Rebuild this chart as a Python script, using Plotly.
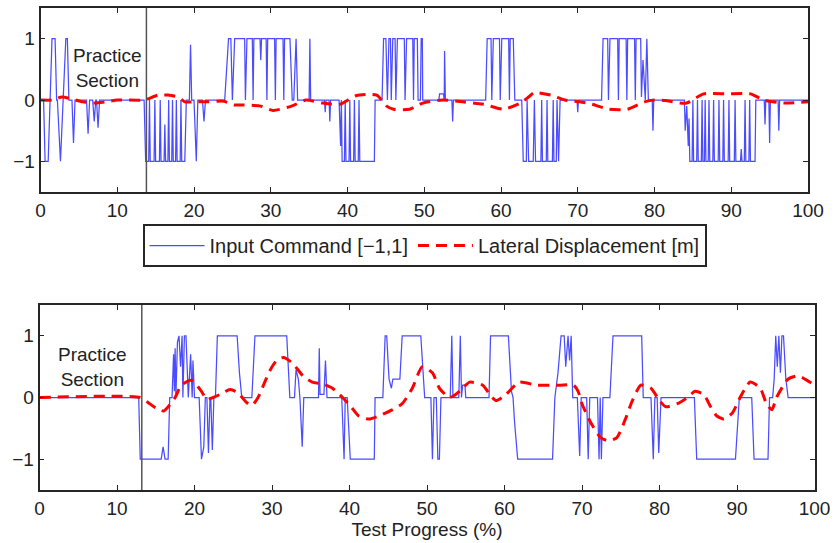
import plotly.graph_objects as go
from plotly.subplots import make_subplots

# ---------------- data ----------------
# Top panel: input command (breakpoints x, y)
top_cmd = [
    (0, 0), (0.4, 0), (0.6, -1), (1.0, -1), (1.5, 1), (1.9, 1), (2.1, 0), (2.2, 0), (2.6, -1),
    (3.3, 1), (3.5, 1), (3.7, 0), (4.1, 0), (4.3, -0.7), (4.5, 0), (6.0, 0), (6.2, -0.55), (6.4, 0),
    (6.8, 0), (7.0, -0.35), (7.2, 0), (7.3, 0), (7.5, -0.45), (7.7, 0), (13.5, 0), (13.7, -1),
    (14.1, -1), (14.2, 0), (14.3, -1), (14.8, -1), (14.9, 0), (15.0, -1), (15.5, -1), (15.6, 0),
    (15.7, -1), (16.1, -1), (16.2, -0.4), (16.3, -1), (16.6, -1), (16.7, 0), (16.8, -1), (17.1, -1),
    (17.2, 0), (17.3, -1), (17.6, -1), (17.7, 0), (17.8, -1), (18.2, -1), (18.3, 0), (18.4, -1),
    (18.8, -1), (19.0, 0), (19.4, 0), (19.55, 0.9), (19.7, 0), (20.0, 0), (20.3, -1), (20.5, 0),
    (21.1, 0), (21.3, -0.35), (21.5, 0), (24.0, 0), (24.5, 1), (24.8, 1), (25.0, 0), (25.3, 1),
    (26.6, 1), (26.7, 0), (26.9, 1), (27.6, 1), (27.7, 0), (27.8, 1), (28.6, 1), (28.7, 0.65),
    (28.8, 1), (29.4, 1), (29.5, 0), (29.6, 1), (30.5, 1), (30.6, 0), (30.7, 1), (31.6, 1),
    (31.7, 0), (31.8, 1), (32.5, 1), (32.8, 0), (33.0, 0), (33.3, 1), (33.5, 0), (35.0, 0),
    (35.1, 1), (35.2, 0), (37.0, 0), (37.1, -0.2), (37.2, 0), (37.6, 0), (37.7, -0.35), (37.8, 0),
    (38.9, 0), (39.1, -0.75), (39.2, 0), (39.3, -1), (39.6, -1), (39.7, 0), (39.8, -1), (40.2, -1),
    (40.3, 0), (40.4, -1), (40.8, -1), (40.9, 0), (41.0, -1), (41.4, -1), (41.5, 0), (41.6, -1),
    (43.5, -1), (43.6, 0), (44.5, 0), (44.7, 1), (45.0, 1), (45.2, 0), (45.4, 1), (45.6, 1),
    (45.7, 0), (45.9, 1), (46.2, 1), (46.3, 0), (46.5, 1), (47.4, 1), (47.5, 0), (47.7, 1),
    (48.5, 1), (48.6, 0), (48.7, 1), (49.1, 1), (49.2, 0), (49.5, 0), (49.6, 1), (49.75, 1),
    (49.8, 0), (51.9, 0), (52.0, 0.1), (52.5, 0.1), (52.6, 0), (52.65, 0.8), (52.75, 0),
    (53.6, 0), (53.7, -0.35), (53.8, 0), (58.0, 0), (58.2, 1), (58.7, 1), (58.8, 0), (59.0, 1),
    (59.8, 1), (59.9, 0), (60.1, 1), (61.0, 1), (61.1, 0), (61.2, 1), (61.6, 1), (61.8, 0),
    (62.7, 0), (62.9, -1), (63.3, -1), (63.4, 0), (63.6, -1), (64.2, -1), (64.35, 0), (64.5, -1),
    (65.2, -1), (65.3, 0), (65.4, -1), (65.9, -1), (66.0, 0), (66.1, -1), (66.7, -1), (66.8, 0),
    (66.9, -1), (67.2, -1), (67.3, 0), (67.5, -1), (67.7, 0), (69.9, 0), (70.0, -0.2), (70.1, 0),
    (73.1, 0), (73.3, 1), (73.9, 1), (74.0, 0), (74.2, 1), (75.2, 1), (75.3, 0), (75.4, 1),
    (76.3, 1), (76.4, 0), (76.5, 1), (77.4, 1), (77.5, 0), (77.6, 1), (78.2, 1), (78.3, 0.05),
    (78.5, 0.65), (78.8, 0), (79.0, 1), (79.2, 0), (79.7, 0), (79.8, -0.5), (79.9, 0), (83.9, 0),
    (84.0, -0.5), (84.2, -0.1), (84.4, -0.75), (84.5, -0.3), (84.6, -1), (84.9, -1), (85.0, 0),
    (85.1, -1), (85.5, -1), (85.6, 0), (85.7, -1), (86.1, -1), (86.2, 0), (86.3, -1), (86.5, -1),
    (86.6, 0), (86.7, -1), (87.0, -1), (87.1, 0), (87.2, -1), (87.6, -1), (87.7, 0), (87.8, -1),
    (88.3, -1), (88.4, 0), (88.5, -1), (88.9, -1), (89.0, 0), (89.1, -1), (89.6, -1), (89.7, 0),
    (89.8, -1), (90.4, -1), (90.5, 0), (90.6, -1), (91.2, -1), (91.3, -0.8), (91.4, -1), (91.7, -1),
    (91.8, 0), (91.9, -1), (92.3, -1), (92.4, 0), (92.5, -1), (93.1, -1), (93.2, 0), (94.3, 0),
    (94.4, -0.4), (94.5, 0), (94.9, 0), (95.0, -0.7), (95.1, 0), (96.1, 0), (96.2, -0.5),
    (96.3, 0), (100, 0),
]

# Top panel: lateral displacement
top_disp_x = [0, 1.5, 2.8, 4, 5.5, 7, 8.5, 10, 13.5, 15.3, 16.6, 17.9, 18.8, 20.4, 21.7, 23.9,
              25.2, 26.5, 28.7, 30.3, 32.7, 34.6, 36.8, 39.0, 41.1, 43.8, 45.1, 46.0, 48.1, 49.8,
              52.4, 55.0, 57.7, 60.3, 62.5, 63.6, 64.3, 66.5, 68.3, 71.3, 74.1, 76.5, 78.7, 80.0,
              81.5, 83.3, 84.2, 86.4, 89.5, 92.5, 94.2, 96.8, 100]
top_disp_y = [0, 0, 0.05, 0.02, -0.03, -0.05, -0.03, 0, 0, 0.08, 0.08, 0.05, -0.03, -0.03, -0.03,
              -0.02, -0.08, -0.08, -0.1, -0.17, -0.1, 0, -0.05, -0.07, 0.07, 0.08, -0.1, -0.15,
              -0.15, -0.05, 0, -0.03, -0.07, -0.15, -0.05, 0.05, 0.12, 0.08, 0, -0.05, -0.15,
              -0.15, -0.03, 0, -0.01, -0.05, -0.05, 0.1, 0.1, 0.1, 0, -0.05, -0.03]

# Bottom panel: input command
bot_cmd = [
    (0, 0), (12.8, 0), (13.0, -1), (15.7, -1), (15.95, -0.8), (16.2, -1), (16.6, -1), (16.8, 0),
    (17.1, 0), (17.3, 0.7), (17.4, 0.1), (17.5, 0.8), (17.6, 0), (17.8, 0.9), (18.0, 1),
    (18.2, 0.5), (18.4, 1), (18.5, 0), (18.7, 1), (18.9, 1), (19.2, 0), (19.5, 0.7), (19.7, 0),
    (19.8, 0.6), (20.0, 0), (20.6, 0), (20.9, -1), (21.2, -0.8), (21.4, 0), (21.6, 0),
    (21.8, -0.9), (22.0, 0), (22.1, 0), (22.3, -0.85), (22.5, 0), (22.7, 0), (22.95, 1),
    (25.5, 1), (25.8, 0.4), (26.1, 0), (27.4, 0), (27.8, 1), (31.9, 1), (32.1, 0.4), (32.3, 0),
    (32.9, 0), (33.1, 0.45), (33.4, 0.3), (33.6, 0), (33.9, -0.8), (34.1, 0), (36.0, 0),
    (36.1, 0.8), (36.2, 0.05), (36.7, 0.05), (36.9, 0.6), (37.1, 0), (39.0, 0), (39.15, -0.7),
    (39.3, -1), (39.45, 0), (39.7, 0), (40.1, -1), (43.2, -1), (43.3, 0), (44.3, 0), (44.6, 1),
    (44.8, 1), (45.1, 0.3), (45.4, 0.15), (45.6, 0.3), (46.5, 0.3), (46.8, 1), (49.2, 1),
    (49.7, 0), (50.5, 0), (50.7, -1), (50.9, 0), (51.2, 0), (51.4, -1), (51.6, -1), (51.8, 0),
    (53.0, 0), (53.2, 1), (53.35, 0), (54.1, 0), (54.3, 1), (54.45, 0), (54.6, 0.2), (54.9, 0.2),
    (55.0, 0), (58.0, 0), (58.2, 1), (60.5, 1), (60.9, 0.1), (61.1, 0), (61.3, -0.4), (61.7, -1),
    (66.2, -1), (66.5, 0), (66.9, 0.4), (67.3, 1), (67.7, 1), (67.9, 0.5), (68.2, 1), (68.4, 0.6),
    (68.6, 1), (68.8, 0), (69.4, 0), (69.7, -0.95), (69.9, 0), (70.6, 0), (70.8, -1), (71.0, 0),
    (72.0, 0), (72.2, -1), (72.35, 0), (72.5, -1), (72.7, 0), (73.6, 0), (74.0, 1), (77.7, 1),
    (77.9, 0), (78.9, 0), (79.2, -1), (79.4, 0), (79.7, 0), (79.9, -0.9), (80.2, 0), (84.5, 0),
    (84.8, -1), (89.8, -1), (90.3, 0), (91.9, 0), (92.2, -1), (94.0, -1), (94.2, 0), (94.6, 0),
    (94.8, 0.3), (95.0, 1), (95.2, 0.5), (95.4, 1), (95.6, 0.4), (95.8, 1), (96.0, 1),
    (96.3, 0.3), (96.6, 0), (100, 0),
]

# Bottom panel: lateral displacement
bot_disp_x = [0, 13, 14, 15, 16, 16.6, 17.5, 18.3, 19.6, 20.9, 21.6, 22.4, 23.3, 24.6, 25.6,
              26.7, 27.4, 28.2, 28.9, 29.7, 30.6, 31.5, 32.7, 34.0, 35.2, 36.5, 37.8, 39.1,
              40.2, 41.2, 42.5, 43.8, 45.5, 46.8, 48.1, 49.4, 50.7, 51.6, 52.9, 53.7, 54.6,
              55.5, 57.2, 58.1, 58.9, 60.2, 61.9, 64.1, 65.9, 67.2, 68.9, 69.5, 70.0, 71.1,
              72.4, 73.4, 74.5, 75.6, 76.5, 77.6, 78.9, 80.0, 80.8, 82.3, 83.6, 84.6, 85.7,
              86.6, 87.4, 88.3, 89.4, 90.4, 91.7, 93.0, 93.8, 94.5, 95.1, 96.6, 97.9, 99.4, 100]
bot_disp_y = [0, 0, -0.08, -0.17, -0.22, -0.15, 0, 0.2, 0.28, 0.1, -0.03, 0, 0.05, 0.13, 0.08,
              -0.08, -0.13, 0, 0.2, 0.43, 0.6, 0.65, 0.55, 0.35, 0.25, 0.22, 0.15, 0.0, -0.15,
              -0.3, -0.35, -0.3, -0.2, -0.1, 0.15, 0.5, 0.4, 0.15, 0.0, 0.05, 0.15, 0.25, 0.2,
              0.05, -0.05, 0.05, 0.25, 0.2, 0.2, 0.2, 0.2, 0.1, -0.1, -0.4, -0.65, -0.7, -0.65,
              -0.35, -0.05, 0.2, 0.15, -0.05, -0.15, -0.1, 0, 0.1, 0.05, -0.15, -0.3, -0.35,
              -0.25, 0, 0.25, 0.15, -0.1, -0.2, 0, 0.3, 0.35, 0.25, 0.2]

practice_end_top = 13.8
practice_end_bot = 13.2
x_ticks = [0, 10, 20, 30, 40, 50, 60, 70, 80, 90, 100]
y_ticks = [-1, 0, 1]
y_tick_text = ["\u22121", "0", "1"]

cmd_name = "Input Command [\u22121,1]"
disp_name = "Lateral Displacement [m]"

# ---------------- figure ----------------
W, H = 835, 543
FONT = "Liberation Sans, Arial, sans-serif"
BLUE = "rgb(75,75,255)"
RED = "rgb(255,0,0)"
AX = "#262626"
DASH = "11px,7px"

fig = make_subplots(rows=2, cols=1)

tx, ty = zip(*top_cmd)
bx, by = zip(*bot_cmd)

fig.add_trace(go.Scatter(x=list(tx), y=list(ty), mode="lines", name=cmd_name,
                         line=dict(color=BLUE, width=1.25)), row=1, col=1)
fig.add_trace(go.Scatter(x=top_disp_x, y=top_disp_y, mode="lines", name=disp_name,
                         line=dict(color=RED, width=3, dash=DASH, shape="spline",
                                   smoothing=0.6)), row=1, col=1)
fig.add_trace(go.Scatter(x=list(bx), y=list(by), mode="lines", name=cmd_name, showlegend=False,
                         line=dict(color=BLUE, width=1.25)), row=2, col=1)
fig.add_trace(go.Scatter(x=bot_disp_x, y=bot_disp_y, mode="lines", name=disp_name,
                         showlegend=False,
                         line=dict(color=RED, width=3, dash=DASH, shape="spline",
                                   smoothing=0.6)), row=2, col=1)

axis_common = dict(showgrid=False, zeroline=False, showline=True, mirror="allticks",
                   linecolor=AX, linewidth=1.6, ticks="inside", ticklen=5, tickcolor=AX,
                   tickwidth=1, tickfont=dict(family=FONT, size=19, color="#222"),
                   automargin=False)

fig.update_xaxes(**axis_common, range=[0, 100], tickvals=x_ticks)
fig.update_yaxes(**axis_common, range=[-1.5, 1.5], tickvals=y_ticks, ticktext=y_tick_text)

fig.update_layout(
    xaxis=dict(domain=[40.5 / W, 808 / W]),
    xaxis2=dict(domain=[39.5 / W, 814.5 / W],
                title=dict(text="Test Progress (%)", standoff=2,
                           font=dict(family=FONT, size=19, color="#222"))),
    yaxis=dict(domain=[1 - 192 / H, 1 - 8 / H]),
    yaxis2=dict(domain=[1 - 490 / H, 1 - 305 / H]),
)

# practice boundary lines
fig.add_shape(type="line", x0=practice_end_top, x1=practice_end_top, y0=0, y1=1,
              xref="x", yref="y domain", line=dict(color="#555", width=1.5))
fig.add_shape(type="line", x0=practice_end_bot, x1=practice_end_bot, y0=0, y1=1,
              xref="x2", yref="y2 domain", line=dict(color="#555", width=1.5))

fig.add_annotation(x=8.7, y=0.52, xref="x", yref="y", text="Practice<br>Section",
                   showarrow=False, font=dict(family=FONT, size=19, color="#222"))
fig.add_annotation(x=6.8, y=0.5, xref="x2", yref="y2", text="Practice<br>Section",
                   showarrow=False, font=dict(family=FONT, size=19, color="#222"))

fig.update_layout(
    width=W, height=H,
    margin=dict(l=0, r=0, t=0, b=0),
    paper_bgcolor="white", plot_bgcolor="white",
    font=dict(family=FONT, size=19, color="#222"),
    legend=dict(orientation="h", x=424.5 / W, y=1 - 245.5 / H, xanchor="center",
                yanchor="middle", bordercolor=AX, borderwidth=2, bgcolor="white",
                font=dict(family=FONT, size=20, color="#222"), itemwidth=55,
                tracegroupgap=0),
    showlegend=True,
)

fig.write_html("out.html")
